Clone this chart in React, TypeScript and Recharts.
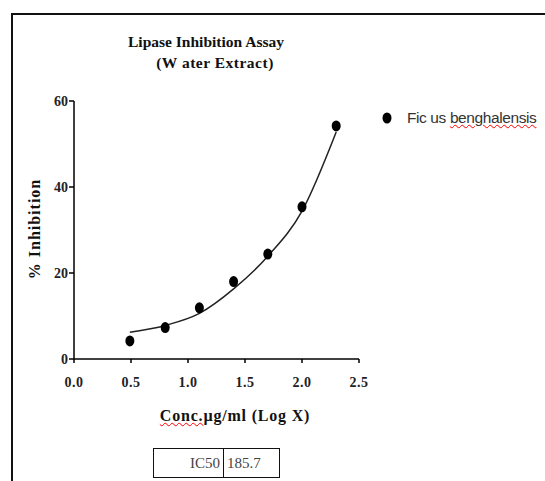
import React from 'react';
import { ComposedChart, Line, Scatter, XAxis, YAxis } from 'recharts';

const concLog = [0.49, 0.8, 1.1, 1.4, 1.7, 2.0, 2.3];
const inhibition = [4.2, 7.3, 11.9, 18.0, 24.4, 35.4, 54.2];
const fitX = [0.49, 0.8, 1.1, 1.4, 1.7, 2.0, 2.3];
const fitY = [6.2, 7.8, 10.6, 16.3, 23.9, 34.4, 52.8];
const xTicks = [0, 0.5, 1.0, 1.5, 2.0, 2.5];
const yTicks = [0, 20, 40, 60];
const seriesName = 'Ficus benghalensis';
const ic50Label = 'IC50';
const ic50Value = '185.7';

const pointData = concLog.map((x, i) => ({ x, y: inhibition[i] }));
const fitData = fitX.map((x, i) => ({ x, y: fitY[i] }));

const serif = '"Liberation Serif", "Times New Roman", serif';

const Dot = (props: any) => {
  const { cx, cy } = props;
  return <ellipse cx={cx} cy={cy} rx={4.5} ry={5.5} fill="#000" />;
};

export default function App() {
  return (
    <div style={{ position: 'absolute', left: 0, top: 0, width: 545, height: 481, background: '#fff', overflow: 'hidden' }}>
      <div style={{ position: 'absolute', left: 11, top: 13, width: 600, height: 600, borderLeft: '2px solid #111', borderTop: '2px solid #111' }} />
      <div style={{ position: 'absolute', left: 0, top: 33, width: 412, textAlign: 'center', fontFamily: serif, fontWeight: 'bold', fontSize: 15.5, color: '#111', letterSpacing: 0 }}>
        Lipase Inhibition Assay
      </div>
      <div style={{ position: 'absolute', left: 0, top: 54, width: 430, textAlign: 'center', fontFamily: serif, fontWeight: 'bold', fontSize: 15.5, color: '#111', letterSpacing: 0.5 }}>
        (W ater Extract)
      </div>
      <div style={{ position: 'absolute', left: 0, top: 0 }}>
        <ComposedChart width={545} height={481} margin={{ top: 101, right: 186, bottom: 92, left: 34 }}>
          <XAxis
            type="number"
            dataKey="x"
            domain={[0, 2.5]}
            ticks={xTicks}
            tickFormatter={(v: number) => v.toFixed(1)}
            stroke="#000"
            strokeWidth={1.5}
            tickSize={4}
            tickMargin={14}
            height={30}
            tick={{ fontFamily: serif, fontWeight: 'bold', fontSize: 14, fill: '#222', letterSpacing: 0.5 }}
            allowDuplicatedCategory={false}
          />
          <YAxis
            type="number"
            dataKey="y"
            domain={[0, 60]}
            ticks={yTicks}
            stroke="#000"
            strokeWidth={1.5}
            tickSize={5}
            tickMargin={1}
            width={40}
            tick={{ fontFamily: serif, fontWeight: 'bold', fontSize: 14, fill: '#222' }}
          />
          <Line
            data={fitData}
            dataKey="y"
            type="monotone"
            stroke="#222"
            strokeWidth={1.5}
            dot={false}
            isAnimationActive={false}
            legendType="none"
          />
          <Scatter data={pointData} dataKey="y" name={seriesName} shape={Dot} isAnimationActive={false} />
        </ComposedChart>
      </div>
      <div style={{ position: 'absolute', left: 381, top: 109, display: 'flex', alignItems: 'center', fontFamily: '"Liberation Sans", Arial, sans-serif', fontSize: 15.5, color: '#333', whiteSpace: 'nowrap' }}>
        <svg width={12} height={14} style={{ marginRight: 14 }}>
          <ellipse cx={6} cy={7} rx={4.5} ry={5.5} fill="#000" />
        </svg>
        <span style={{ letterSpacing: -0.4 }}>
          Fic us{' '}
          <span style={{ textDecoration: 'underline wavy red', textDecorationThickness: 1 }}>benghalensis</span>
        </span>
      </div>
      <div style={{ position: 'absolute', left: 35, top: 229, transform: 'translate(-50%, -50%) rotate(-90deg)', fontFamily: serif, fontWeight: 'bold', fontSize: 16, letterSpacing: 1, color: '#111', whiteSpace: 'nowrap' }}>
        % Inhibition
      </div>
      <div style={{ position: 'absolute', left: 235, top: 407, transform: 'translateX(-50%)', fontFamily: serif, fontWeight: 'bold', fontSize: 16, letterSpacing: 0.8, color: '#111', whiteSpace: 'nowrap' }}>
        <span style={{ textDecoration: 'underline wavy red', textDecorationThickness: 1 }}>Conc.</span>µg/ml (Log X)
      </div>
      <div style={{ position: 'absolute', left: 153, top: 448, width: 125, height: 28, border: '1px solid #111', display: 'flex', fontFamily: serif, fontSize: 15, color: '#444' }}>
        <div style={{ width: 70, borderRight: '1px solid #111', textAlign: 'right', paddingRight: 3, lineHeight: '28px', boxSizing: 'border-box' }}>{ic50Label}</div>
        <div style={{ paddingLeft: 3, lineHeight: '28px' }}>{ic50Value}</div>
      </div>
    </div>
  );
}
